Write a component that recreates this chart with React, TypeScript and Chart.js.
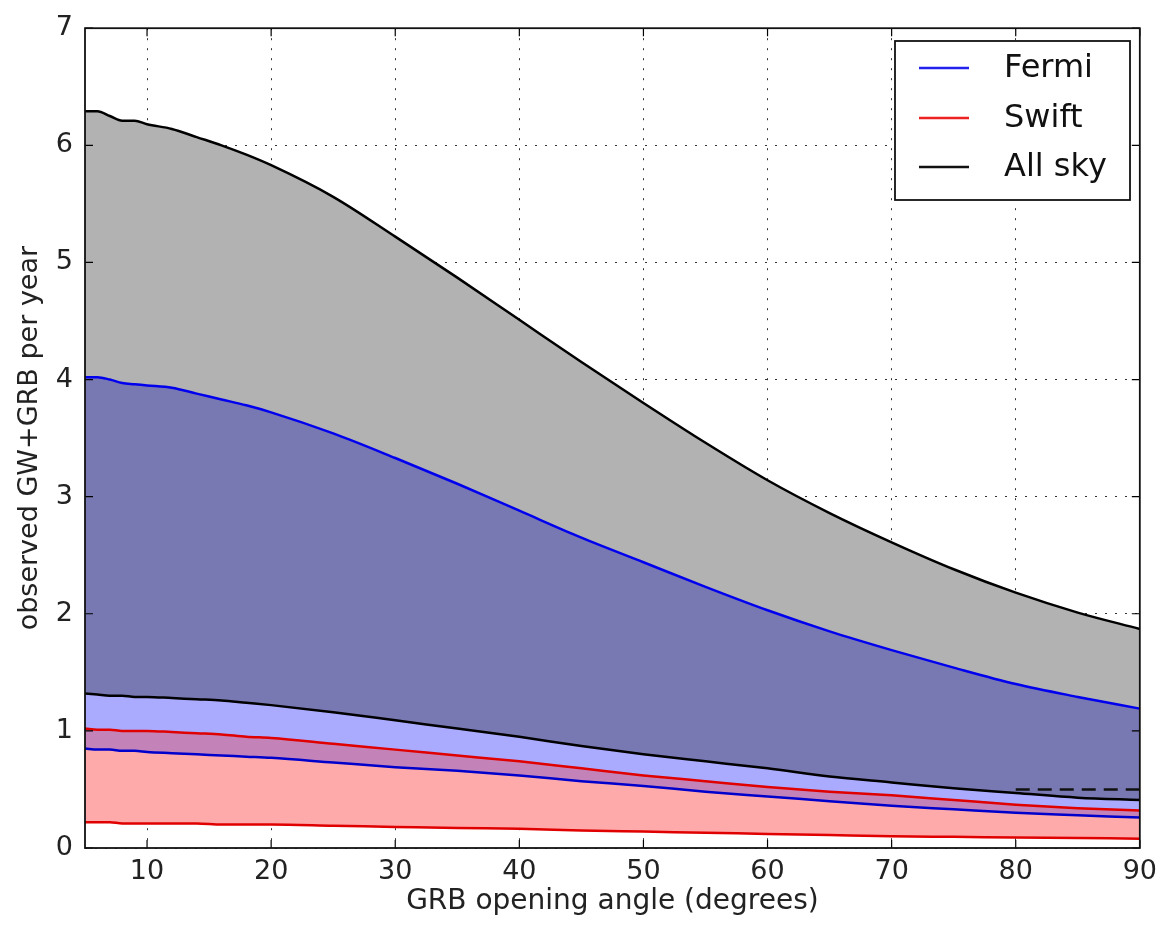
import React, { useEffect, useRef } from "react";
import { Chart, registerables } from "chart.js";

Chart.register(...registerables);

const angles = [5, 6, 7, 8, 9, 10, 12, 14, 16, 18, 20, 25, 30, 35, 40, 45, 50, 55, 60, 65, 70, 75, 80, 85, 90];
const allSkyUpper = [6.29, 6.29, 6.25, 6.21, 6.21, 6.18, 6.14, 6.07, 6.0, 5.92, 5.83, 5.56, 5.22, 4.87, 4.51, 4.15, 3.8, 3.46, 3.14, 2.86, 2.61, 2.38, 2.18, 2.01, 1.87];
const fermiUpper = [4.02, 4.02, 4.0, 3.97, 3.96, 3.95, 3.93, 3.88, 3.83, 3.78, 3.72, 3.54, 3.33, 3.11, 2.88, 2.65, 2.44, 2.23, 2.03, 1.85, 1.69, 1.54, 1.4, 1.29, 1.19];
const allSkyLower = [1.32, 1.31, 1.3, 1.3, 1.29, 1.29, 1.28, 1.27, 1.26, 1.24, 1.22, 1.16, 1.09, 1.02, 0.95, 0.87, 0.8, 0.74, 0.68, 0.61, 0.56, 0.51, 0.47, 0.43, 0.41];
const swiftUpper = [1.02, 1.01, 1.01, 1.0, 1.0, 1.0, 0.99, 0.98, 0.97, 0.95, 0.94, 0.89, 0.84, 0.79, 0.74, 0.68, 0.62, 0.57, 0.52, 0.48, 0.45, 0.41, 0.37, 0.34, 0.32];
const fermiLower = [0.85, 0.84, 0.84, 0.83, 0.83, 0.82, 0.81, 0.8, 0.79, 0.78, 0.77, 0.73, 0.69, 0.66, 0.62, 0.57, 0.53, 0.48, 0.44, 0.4, 0.36, 0.33, 0.3, 0.28, 0.26];
const swiftLower = [0.22, 0.22, 0.22, 0.21, 0.21, 0.21, 0.21, 0.21, 0.2, 0.2, 0.2, 0.19, 0.18, 0.17, 0.165, 0.15, 0.14, 0.13, 0.12, 0.11, 0.1, 0.095, 0.09, 0.085, 0.08];
const dashedAngles = [80, 90];
const dashedAllSky = [0.5, 0.5];

const xTicks = [10, 20, 30, 40, 50, 60, 70, 80, 90];
const legendLabels = ["Fermi", "Swift", "All sky"];
const legendColors = ["#2222ee", "#ee2222", "#111111"];

const pts = (xs: number[], ys: number[]) => xs.map((x, i) => ({ x, y: ys[i] }));

const FONT = "'DejaVu Sans', 'Liberation Sans', sans-serif";

const framePlugin = {
  id: "frameAndLegend",
  afterDraw(chart: any) {
    const { ctx, chartArea: a, scales } = chart;
    ctx.save();
    ctx.strokeStyle = "#000";
    ctx.lineWidth = 1.2;
    ctx.setLineDash([]);
    const tl = 8;
    xTicks.forEach((v) => {
      const px = scales.x.getPixelForValue(v);
      ctx.beginPath();
      ctx.moveTo(px, a.bottom);
      ctx.lineTo(px, a.bottom - tl);
      ctx.moveTo(px, a.top);
      ctx.lineTo(px, a.top + tl);
      ctx.stroke();
    });
    for (let v = 0; v <= 7; v++) {
      const py = scales.y.getPixelForValue(v);
      ctx.beginPath();
      ctx.moveTo(a.left, py);
      ctx.lineTo(a.left + tl, py);
      ctx.moveTo(a.right, py);
      ctx.lineTo(a.right - tl, py);
      ctx.stroke();
    }
    ctx.lineWidth = 1.8;
    ctx.strokeStyle = "#111";
    ctx.strokeRect(a.left, a.top, a.right - a.left, a.bottom - a.top);

    const bx = 895, by = 41, bw = 235, bh = 159;
    ctx.fillStyle = "#fff";
    ctx.fillRect(bx, by, bw, bh);
    ctx.lineWidth = 1.8;
    ctx.strokeStyle = "#111";
    ctx.strokeRect(bx, by, bw, bh);
    const rows = [68, 118, 167];
    ctx.font = `32px ${FONT}`;
    ctx.textBaseline = "middle";
    ctx.textAlign = "left";
    rows.forEach((ry, i) => {
      ctx.strokeStyle = legendColors[i];
      ctx.lineWidth = 2.5;
      ctx.beginPath();
      ctx.moveTo(919, ry);
      ctx.lineTo(969, ry);
      ctx.stroke();
      ctx.fillStyle = "#111";
      ctx.fillText(legendLabels[i], 1004, ry + 1);
    });
    ctx.restore();
  },
};

export default function App() {
  const ref = useRef<HTMLCanvasElement | null>(null);
  useEffect(() => {
    if (!ref.current) return;
    const line = (data: any, color: string, fill: any, bg: string, extra: any = {}) => ({
      data,
      borderColor: color,
      borderWidth: 2.5,
      backgroundColor: bg,
      fill,
      pointRadius: 0,
      cubicInterpolationMode: "monotone",
      ...extra,
    });
    const chart = new Chart(ref.current, {
      type: "line",
      data: {
        datasets: [
          line(pts(angles, allSkyUpper), "#000000", 1, "#b2b2b2"),
          line(pts(angles, fermiUpper), "#0000ee", 2, "#7878b2"),
          line(pts(angles, allSkyLower), "#000000", 3, "#aaaaff"),
          line(pts(angles, swiftUpper), "#e00000", 4, "#c483b8"),
          line(pts(angles, fermiLower), "#0000cc", 5, "#ffaaaa"),
          line(pts(angles, swiftLower), "#e00000", false, "transparent"),
          line(pts(dashedAngles, dashedAllSky), "#111111", false, "transparent", { borderDash: [14, 8] }),
        ] as any,
      },
      options: {
        responsive: false,
        animation: false,
        layout: { padding: { top: 22, right: 18, left: 0, bottom: 0 } },
        plugins: {
          legend: { display: false },
          tooltip: { enabled: false },
          filler: { drawTime: "beforeDatasetsDraw" },
        } as any,
        scales: {
          x: {
            type: "linear",
            min: 5,
            max: 90,
            afterBuildTicks: (s: any) => {
              s.ticks = xTicks.map((v) => ({ value: v }));
            },
            afterFit: (s: any) => {
              s.height = 81;
            },
            grid: { color: "#333", lineWidth: 1, drawTicks: false },
            border: { display: false, dash: [2, 8] },
            ticks: { font: { family: FONT, size: 27 }, color: "#222", padding: 8, maxRotation: 0 },
            title: {
              display: true,
              text: "GRB opening angle (degrees)",
              font: { family: FONT, size: 28 },
              color: "#222",
              padding: { top: 0, bottom: 10 },
            },
          },
          y: {
            type: "linear",
            min: 0,
            max: 7,
            afterFit: (s: any) => {
              s.width = 85;
            },
            grid: { color: "#333", lineWidth: 1, drawTicks: false },
            border: { display: false, dash: [2, 8] },
            ticks: { stepSize: 1, font: { family: FONT, size: 27 }, color: "#222", padding: 12 },
            title: {
              display: true,
              text: "observed GW+GRB per year",
              font: { family: FONT, size: 27 },
              color: "#222",
              padding: { top: 14, bottom: 0 },
            },
          },
        },
      },
      plugins: [framePlugin],
    });
    return () => chart.destroy();
  }, []);
  return (
    <div style={{ position: "fixed", left: 0, top: 0, width: 1165, height: 929, background: "#fff" }}>
      <canvas ref={ref} width={1165} height={929} style={{ width: 1165, height: 929 }} />
    </div>
  );
}
